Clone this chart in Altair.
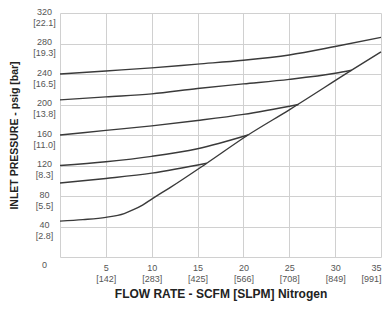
import altair as alt
import pandas as pd

# Curves: flow rate (SCFM) vs inlet pressure (psig)
c1_x = [0, 5, 10, 15, 20, 25, 30, 35]
c1_y = [240, 244, 248, 253, 258, 265, 276, 288]
c2_x = [0, 5, 10, 15, 20, 25, 30, 31.8]
c2_y = [206, 210, 214, 221, 227, 233, 241, 245]
c3_x = [0, 5, 10, 15, 20, 26]
c3_y = [160, 166, 172, 179, 187, 200]
c4_x = [0, 5, 10, 15, 20.5]
c4_y = [120, 125, 132, 142, 160]
c5_x = [0, 5, 10, 16]
c5_y = [97, 103, 110, 123]
c6_x = [0, 2.5, 5, 7, 8, 9, 10, 12, 16, 20.5, 25, 31.8, 35]
c6_y = [47, 49, 52, 57, 62, 68, 76, 91, 123, 160, 193, 245, 269]

x_ticks = [5, 10, 15, 20, 25, 30, 35]
x_sub = ["142", "283", "425", "566", "708", "849", "991"]
y_ticks = [0, 40, 80, 120, 160, 200, 240, 280, 320]
y_sub = ["", "2.8", "5.5", "8.3", "11.0", "13.8", "16.5", "19.3", "22.1"]

rows = []
for i, (xs, ys) in enumerate([(c1_x, c1_y), (c2_x, c2_y), (c3_x, c3_y),
                              (c4_x, c4_y), (c5_x, c5_y), (c6_x, c6_y)]):
    for x, y in zip(xs, ys):
        rows.append({"series": f"c{i}", "flow": x, "pressure": y})
df = pd.DataFrame(rows)

x_map = "{" + ",".join(f"'{t}':'{s}'" for t, s in zip(x_ticks, x_sub)) + "}"
y_map = "{" + ",".join(f"'{t}':'{s}'" for t, s in zip(y_ticks, y_sub)) + "}"

grid_x = [0] + x_ticks

chart = alt.Chart(df).mark_line(color="#3a3a3a", strokeWidth=1.4, interpolate="monotone").encode(
    x=alt.X("flow:Q", scale=alt.Scale(domain=[0, 35], nice=False),
            axis=alt.Axis(values=grid_x, title="FLOW RATE - SCFM [SLPM] Nitrogen",
                          labelExpr=f"datum.value == 0 ? '' : [datum.label, '[' + {x_map}[datum.value] + ']']",
                          labelFont="Liberation Sans", labelFontSize=9, labelColor="#555",
                          labelPadding=6, ticks=False, domain=False,
                          gridColor="#d0d0d0", gridWidth=1,
                          titleFont="Liberation Sans", titleFontSize=12, titleFontWeight="bold",
                          titleColor="#222", titlePadding=5)),
    y=alt.Y("pressure:Q", scale=alt.Scale(domain=[0, 320], nice=False),
            axis=alt.Axis(values=y_ticks, title="INLET PRESSURE - psig [bar]",
                          labelExpr=f"datum.value == 0 ? '0' : [datum.label, '[' + {y_map}[datum.value] + ']']",
                          labelFont="Liberation Sans", labelFontSize=9, labelColor="#555",
                          labelAlign="center", labelBaseline="top",
                          labelOffset={"condition": {"test": "datum.value === 0", "value": 3}, "value": -6},
                          labelPadding=16, ticks=False, domain=False,
                          gridColor="#d0d0d0", gridWidth=1,
                          titleFont="Liberation Sans", titleFontSize=10.5, titleFontWeight="bold",
                          titleColor="#222", titlePadding=13)),
    detail="series:N",
).properties(
    width=321, height=244,
    autosize=alt.AutoSizeParams(type="none"),
    padding={"left": 52, "top": 5, "right": 3, "bottom": 52},
).configure_view(stroke=None)

chart.save("out.html", embed_options={"renderer": "svg", "actions": False})
